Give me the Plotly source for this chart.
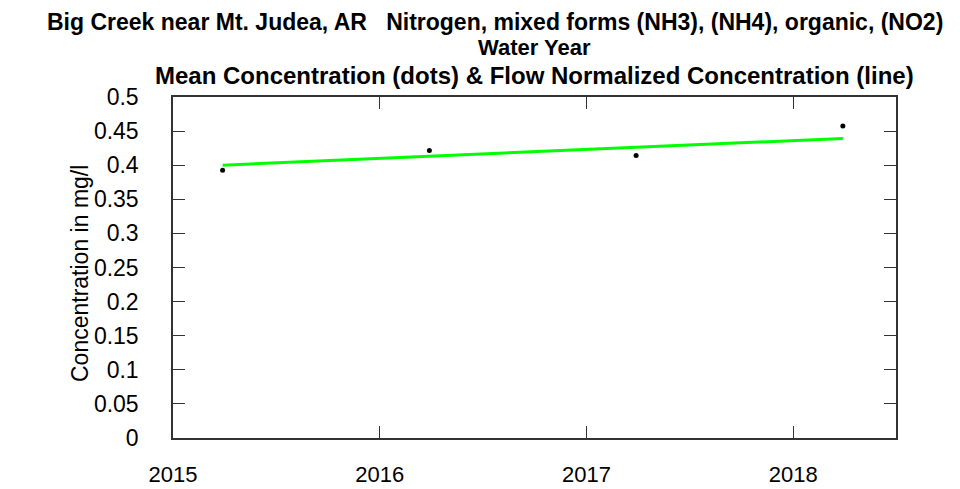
import plotly.graph_objects as go

# Data
years = [2015.24, 2016.24, 2017.24, 2018.24]
mean_conc = [0.3926, 0.4217, 0.4143, 0.4574]
fn_years = [2015.24, 2016.24, 2017.24, 2018.24]
fn_conc = [0.400, 0.413, 0.426, 0.4393]
x_ticks = [2015, 2016, 2017, 2018]
y_ticks = [0, 0.05, 0.1, 0.15, 0.2, 0.25, 0.3, 0.35, 0.4, 0.45, 0.5]
y_tick_text = ["0", "0.05", "0.1", "0.15", "0.2", "0.25", "0.3", "0.35", "0.4", "0.45", "0.5"]

title1 = "Big Creek near Mt. Judea, AR\u00a0\u00a0\u00a0Nitrogen, mixed forms (NH3), (NH4), organic, (NO2)"
title2 = "Water Year"
title3 = "Mean Concentration (dots) & Flow Normalized Concentration (line)"

OFF = 8  # page body margin
W, H = 952, 481
L, T = 173 - OFF, 97 - OFF
pw, ph = 723, 341
R = W - L - pw
B = H - T - ph

def py(p):  # page y pixel -> paper
    return 1 + (T - (p - OFF)) / ph

def px(p):  # page x pixel -> paper
    return ((p - OFF) - L) / pw

fig = go.Figure()
fig.add_trace(go.Scatter(x=fn_years, y=fn_conc, mode="lines",
                         line=dict(color="#00FF00", width=3), showlegend=False))
fig.add_trace(go.Scatter(x=years, y=mean_conc, mode="markers",
                         marker=dict(color="black", size=5), showlegend=False))

font = "Liberation Sans, Arial, sans-serif"
axis_common = dict(ticks="inside", ticklen=12, tickwidth=1.3, tickcolor="#333",
                   showline=True, linecolor="#333", linewidth=1.5, mirror="allticks",
                   showgrid=False, zeroline=False, automargin=False)

fig.update_layout(
    width=W, height=H,
    margin=dict(l=L, r=R, t=T, b=B),
    paper_bgcolor="white", plot_bgcolor="white",
    xaxis=dict(range=[2015, 2018.497], tickvals=x_ticks, ticktext=[str(v) for v in x_ticks],
               ticklabelstandoff=16, tickfont=dict(family=font, size=22, color="black"),
               **axis_common),
    yaxis=dict(range=[0, 0.5], tickvals=y_ticks, ticktext=y_tick_text,
               ticklabelstandoff=28, tickfont=dict(family=font, size=23, color="black"),
               **axis_common),
    annotations=[
        dict(text="<b>" + title1 + "</b>", xref="paper", yref="paper", x=px(944), y=py(OFF),
             xanchor="right", yanchor="top", showarrow=False, borderpad=0,
             font=dict(family=font, size=23, color="black")),
        dict(text="<b>" + title2 + "</b>", xref="paper", yref="paper", x=0.5, y=py(48),
             xanchor="center", yanchor="middle", showarrow=False, borderpad=0,
             font=dict(family=font, size=22, color="black")),
        dict(text="<b>" + title3 + "</b>", xref="paper", yref="paper", x=0.5, y=py(75),
             xanchor="center", yanchor="middle", showarrow=False, borderpad=0,
             font=dict(family=font, size=24, color="black")),
        dict(text="Concentration in mg/l", xref="paper", yref="paper", x=px(80), y=py(274),
             xanchor="center", yanchor="middle", textangle=-90, showarrow=False,
             font=dict(family=font, size=23, color="black")),
    ],
)

fig.write_html("out.html")
